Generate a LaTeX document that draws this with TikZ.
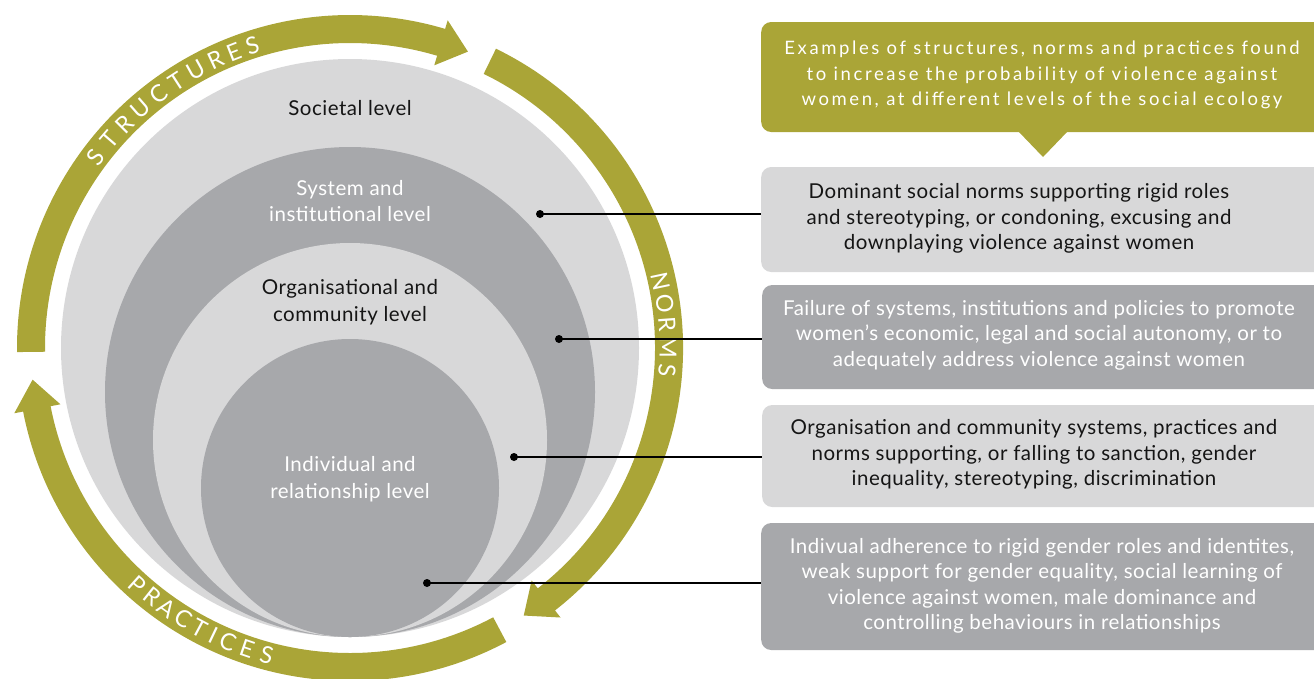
\documentclass[tikz,border=0pt]{standalone}
\usepackage{fontspec}
\setmainfont{Lato}
\definecolor{olivebar}{HTML}{AAA537}
\definecolor{paleg}{HTML}{D8D8D9}
\definecolor{darkg}{HTML}{A7A8AB}
\definecolor{inkblack}{HTML}{151515}
\begin{document}
\begin{tikzpicture}[x=1pt,y=1pt,
  lvltext/.style={align=center,font=\fontsize{20.5}{26.5}\selectfont\addfontfeature{LetterSpace=2.5}},
  boxtext/.style={align=center,font=\fontsize{20.5}{25.5}\selectfont\addfontfeature{LetterSpace=2.5}},
  panel/.style={rounded corners=10pt,minimum width=620pt,anchor=west,inner sep=0pt},
  ringletter/.style={text=white,inner sep=0pt,font=\fontsize{23.5}{23.5}\selectfont},
  link/.style={line width=2pt,draw=black},
  dot/.style={fill=black}]
\useasboundingbox (0,0) rectangle (1314,-678);
\clip (0,0) rectangle (1314,-678);

% nested levels, all touching at the bottom
\coordinate (C) at (350,-348);
\fill[paleg] (350,-348) circle[radius=289];
\fill[darkg] (350,-392) circle[radius=245];
\fill[paleg] (350,-440) circle[radius=197];
\fill[darkg] (350,-488) circle[radius=149];

\node[lvltext,text=inkblack] (soc) at (350,-108) {Societal level};
\node[lvltext,text=white] (sys) at (350,-201) {System and\\institutional level};
\node[lvltext,text=inkblack] (org) at (350,-302) {Organisational and\\community level};
\node[lvltext,text=white] (ind) at (350,-479) {Individual and\\relationship level};

% cycle of three arrows around the levels
\fill[olivebar] ([shift={(C)}]180.7:333) arc[start angle=180.7,end angle=73.4,radius=333]
  -- ([shift={(C)}]73.4:342) -- ([shift={(C)}]68.3:319) -- ([shift={(C)}]73.4:295)
  -- ([shift={(C)}]73.4:305) arc[start angle=73.4,end angle=180.7,radius=305] -- cycle;
\fill[olivebar] ([shift={(C)}]64:333) arc[start angle=64,end angle=-52,radius=333]
  -- ([shift={(C)}]-52:342) -- ([shift={(C)}]-57:319) -- ([shift={(C)}]-52:295)
  -- ([shift={(C)}]-52:305) arc[start angle=-52,end angle=64,radius=305] -- cycle;
\fill[olivebar] ([shift={(C)}]-62:333) arc[start angle=-62,end angle=-169,radius=333]
  -- ([shift={(C)}]-169:342) -- ([shift={(C)}]-174.3:319) -- ([shift={(C)}]-169:295)
  -- ([shift={(C)}]-169:305) arc[start angle=-169,end angle=-62,radius=305] -- cycle;

\foreach \a/\l [count=\i] in {143.1/S,139.2/T,135.2/R,131.1/U,127.0/C,123.0/T,119.0/U,115.0/R,111.4/E,107.9/S}
  \node[ringletter,rotate=\a-90] (st\i) at ([shift={(C)}]\a:318) {\l};
\foreach \a/\l [count=\i] in {12.0/N,8.0/O,4.2/R,0.1/M,-4.1/S}
  \node[ringletter,rotate=\a-90] (no\i) at ([shift={(C)}]\a:318) {\l};
\foreach \a/\l [count=\i] in {228.1/P,231.5/R,234.9/A,238.4/C,241.8/T,244.5/I,247.4/C,251.1/E,254.8/S}
  \node[ringletter,rotate=\a+90] (pr\i) at ([shift={(C)}]\a:318) {\l};

% explanatory panels
\node[panel,fill=olivebar,minimum height=110pt] (head) at (761,-77) {};
\fill[olivebar] (1018,-131) -- (1068,-131) -- (1043,-157) -- cycle;
\node[align=center,text=white,font=\fontsize{18.5}{25.5}\selectfont\addfontfeature{LetterSpace=14}] (headt) at (1042,-75)
  {Examples of structures, norms and practices found\\to increase the probability of violence against\\women, at different levels of the social ecology};

\node[panel,fill=paleg,minimum height=105pt] (b1) at (761,-219.5) {};
\node[boxtext,text=inkblack] (t1) at (1019,-218.5)
  {Dominant social norms supporting rigid roles\\and stereotyping, or condoning, excusing and\\downplaying violence against women};

\node[panel,fill=darkg,minimum height=104pt] (b2) at (762,-337) {};
\node[boxtext,text=white] (t2) at (1039,-335)
  {Failure of systems, institutions and policies to promote\\women’s economic, legal and social autonomy, or to\\adequately address violence against women};

\node[panel,fill=paleg,minimum height=102pt] (b3) at (762,-456) {};
\node[boxtext,text=inkblack] (t3) at (1034,-454.5)
  {Organisation and community systems, practices and\\norms supporting, or falling to sanction, gender\\inequality, stereotyping, discrimination};

\node[panel,fill=darkg,minimum height=127pt] (b4) at (761,-586.5) {};
\node[boxtext,text=white] (t4) at (1042,-586)
  {Indivual adherence to rigid gender roles and identites,\\weak support for gender equality, social learning of\\violence against women, male dominance and\\controlling behaviours in relationships};

% leaders from each level to its panel
\coordinate (d1) at (540,-214);
\coordinate (d2) at (559,-339);
\coordinate (d3) at (514,-457);
\coordinate (d4) at (427,-583);
\draw[link] (d1) -- (d1 -| b1.west);
\draw[link] (d2) -- (d2 -| b2.west);
\draw[link] (d3) -- (d3 -| b3.west);
\draw[link] (d4) -- (d4 -| b4.west);
\foreach \d in {d1,d2,d3,d4} \fill[dot] (\d) circle[radius=4];
\end{tikzpicture}
\end{document}
